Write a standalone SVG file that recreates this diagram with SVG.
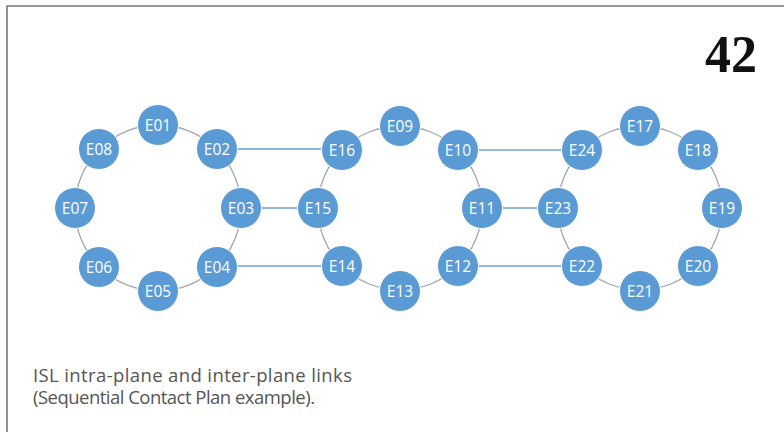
<svg xmlns="http://www.w3.org/2000/svg" width="784" height="432" viewBox="0 0 784 432">
<style>
.n circle{fill:#5b9bd5;stroke:#ffffff;stroke-width:1}
.n text{fill:#ffffff;font-family:"Open Sans","Noto Sans",sans-serif;font-size:15.5px;text-anchor:middle;dominant-baseline:central}
.ring{fill:none;stroke:#a3a5b3;stroke-width:1.3}
.isl{stroke:#6a9fd4;stroke-width:1.3}
.cap{fill:#555555;font-family:"Open Sans","Noto Sans",sans-serif;font-size:18.5px;font-variant-ligatures:none}
</style>
<rect width="784" height="432" fill="#ffffff"/>
<path d="M7,432 V6 H784" fill="none" stroke="#777777" stroke-width="1.6"/>
<text x="757" y="72" font-family="Liberation Serif,serif" font-weight="bold" font-size="52" text-anchor="end" fill="#111111">42</text>
<g id="connectors">
<circle class="ring" cx="158" cy="208" r="83"/>
<circle class="ring" cx="400" cy="208" r="82"/>
<circle class="ring" cx="640" cy="208" r="82"/>
<line class="isl" x1="217" y1="149" x2="342" y2="149"/>
<line class="isl" x1="241" y1="208" x2="318" y2="208"/>
<line class="isl" x1="217" y1="266" x2="342" y2="266"/>
<line class="isl" x1="458" y1="150" x2="582" y2="150"/>
<line class="isl" x1="482" y1="208" x2="558" y2="208"/>
<line class="isl" x1="458" y1="266" x2="582" y2="266"/>
</g>
<g id="E01" class="n"><circle cx="158" cy="125" r="20.5"/><text x="158" y="125">E01</text></g>
<g id="E02" class="n"><circle cx="217" cy="149" r="20.5"/><text x="217" y="149">E02</text></g>
<g id="E03" class="n"><circle cx="241" cy="208" r="20.5"/><text x="241" y="208">E03</text></g>
<g id="E04" class="n"><circle cx="217" cy="267" r="20.5"/><text x="217" y="267">E04</text></g>
<g id="E05" class="n"><circle cx="158" cy="291" r="20.5"/><text x="158" y="291">E05</text></g>
<g id="E06" class="n"><circle cx="99" cy="267" r="20.5"/><text x="99" y="267">E06</text></g>
<g id="E07" class="n"><circle cx="75" cy="208" r="20.5"/><text x="75" y="208">E07</text></g>
<g id="E08" class="n"><circle cx="99" cy="149" r="20.5"/><text x="99" y="149">E08</text></g>
<g id="E09" class="n"><circle cx="400" cy="126" r="20.5"/><text x="400" y="126">E09</text></g>
<g id="E10" class="n"><circle cx="458" cy="150" r="20.5"/><text x="458" y="150">E10</text></g>
<g id="E11" class="n"><circle cx="482" cy="208" r="20.5"/><text x="482" y="208">E11</text></g>
<g id="E12" class="n"><circle cx="458" cy="266" r="20.5"/><text x="458" y="266">E12</text></g>
<g id="E13" class="n"><circle cx="400" cy="291" r="20.5"/><text x="400" y="291">E13</text></g>
<g id="E14" class="n"><circle cx="342" cy="266" r="20.5"/><text x="342" y="266">E14</text></g>
<g id="E15" class="n"><circle cx="318" cy="208" r="20.5"/><text x="318" y="208">E15</text></g>
<g id="E16" class="n"><circle cx="342" cy="150" r="20.5"/><text x="342" y="150">E16</text></g>
<g id="E17" class="n"><circle cx="640" cy="126" r="20.5"/><text x="640" y="126">E17</text></g>
<g id="E18" class="n"><circle cx="698" cy="150" r="20.5"/><text x="698" y="150">E18</text></g>
<g id="E19" class="n"><circle cx="722" cy="208" r="20.5"/><text x="722" y="208">E19</text></g>
<g id="E20" class="n"><circle cx="698" cy="266" r="20.5"/><text x="698" y="266">E20</text></g>
<g id="E21" class="n"><circle cx="640" cy="291" r="20.5"/><text x="640" y="291">E21</text></g>
<g id="E22" class="n"><circle cx="582" cy="266" r="20.5"/><text x="582" y="266">E22</text></g>
<g id="E23" class="n"><circle cx="558" cy="208" r="20.5"/><text x="558" y="208">E23</text></g>
<g id="E24" class="n"><circle cx="582" cy="150" r="20.5"/><text x="582" y="150">E24</text></g>
<text class="cap" x="33" y="382" textLength="319">ISL intra-plane and inter-plane links</text>
<text class="cap" x="33" y="404" textLength="282">(Sequential Contact Plan example).</text>
</svg>
